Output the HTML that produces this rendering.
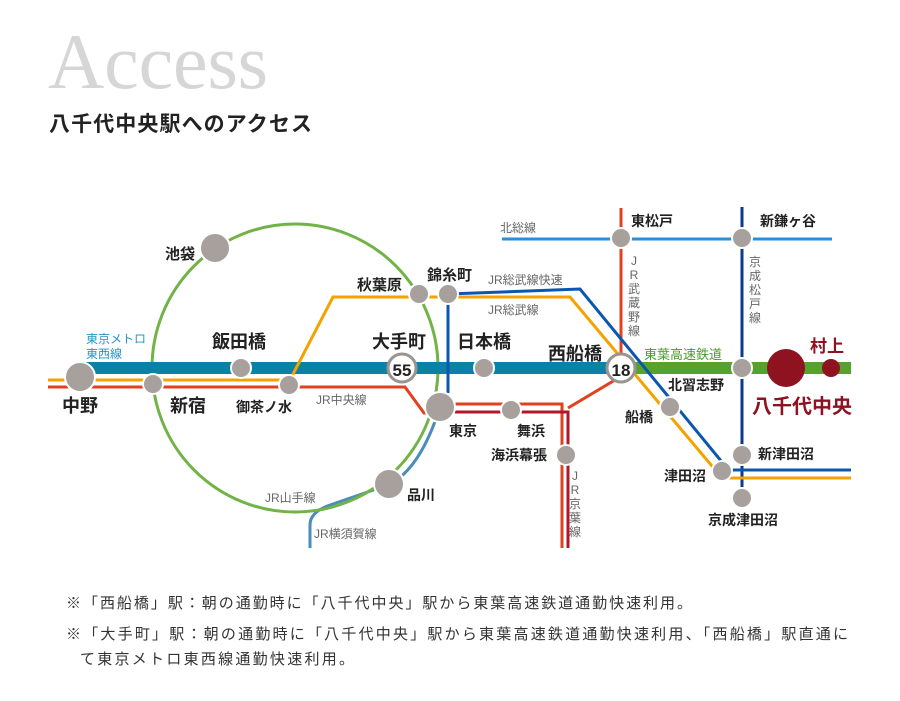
<!DOCTYPE html>
<html><head><meta charset="utf-8"><style>
html,body{margin:0;padding:0;background:#fff;}
svg{display:block;}
text{font-family:"Liberation Sans","Noto Sans CJK JP",sans-serif;}
</style></head><body>
<svg width="900" height="701" viewBox="0 0 900 701" xmlns="http://www.w3.org/2000/svg">
<text x="48" y="88" style="font-family:'Liberation Serif',serif" font-size="78" fill="#d6d6d6" textLength="220">Access</text>
<text x="49" y="131" font-size="21" font-weight="bold" fill="#222" textLength="263">八千代中央駅へのアクセス</text>

<line x1="502" y1="239" x2="832" y2="239" stroke="#2a8fd8" stroke-width="3"/>
<text x="500" y="232" font-size="12" fill="#666">北総線</text>
<line x1="621" y1="208" x2="621" y2="368" stroke="#e2401f" stroke-width="3"/>
<line x1="742" y1="207" x2="742" y2="487" stroke="#0b3a8f" stroke-width="3"/>
<path d="M440,407 Q420,470 388,485 L330,505 Q310,512 310,525 L310,548" fill="none" stroke="#4a8db8" stroke-width="3"/>
<ellipse cx="295" cy="368" rx="143" ry="144" fill="none" stroke="#72b347" stroke-width="3"/>
<line x1="80" y1="368" x2="622" y2="368" stroke="#0a82a6" stroke-width="12"/>
<line x1="622" y1="368" x2="851" y2="368" stroke="#57a22e" stroke-width="12"/>
<line x1="448" y1="294" x2="448" y2="393" stroke="#0b57b0" stroke-width="3"/>
<polyline points="448,294 580,289 722,462 722,470 851,470" fill="none" stroke="#0b57b0" stroke-width="3"/>
<polyline points="48,380 290,380 333,297 570,297 722,478 851,478" fill="none" stroke="#f5a200" stroke-width="3"/>
<polyline points="48,387 405,387 424,413 440,413" fill="none" stroke="#e2401f" stroke-width="3"/>
<polyline points="440,404 562,404 562,548" fill="none" stroke="#e2401f" stroke-width="3"/>
<polyline points="440,412 568,412 568,548" fill="none" stroke="#b3162a" stroke-width="3"/>
<line x1="568" y1="408" x2="620" y2="377" stroke="#e2401f" stroke-width="3"/>

<g fill="#a8a09d" stroke="#fff" stroke-width="2">
<circle cx="80" cy="377" r="15"/>
<circle cx="153" cy="384" r="10"/>
<circle cx="241" cy="368" r="10"/>
<circle cx="289" cy="385" r="10"/>
<circle cx="215" cy="248" r="15"/>
<circle cx="419" cy="294" r="10"/>
<circle cx="448" cy="294" r="10"/>
<circle cx="440" cy="407" r="15"/>
<circle cx="389" cy="484" r="15"/>
<circle cx="484" cy="368" r="10"/>
<circle cx="511" cy="410" r="10"/>
<circle cx="566" cy="455" r="10"/>
<circle cx="621" cy="238" r="10"/>
<circle cx="742" cy="238" r="10"/>
<circle cx="742" cy="368" r="10"/>
<circle cx="670" cy="407" r="10"/>
<circle cx="742" cy="455" r="10"/>
<circle cx="722" cy="471" r="10"/>
<circle cx="742" cy="498" r="10"/>
</g>
<circle cx="786" cy="368" r="19" fill="#8e1220"/>
<circle cx="831" cy="368" r="9" fill="#8e1220"/>
<circle cx="402" cy="368" r="14" fill="#fff" stroke="#9a9390" stroke-width="3"/>
<text x="402" y="376" font-size="17" font-weight="bold" text-anchor="middle" fill="#222">55</text>
<circle cx="621" cy="368" r="14" fill="#fff" stroke="#9a9390" stroke-width="3"/>
<text x="621" y="376" font-size="17" font-weight="bold" text-anchor="middle" fill="#222">18</text>

<g font-weight="bold" fill="#222">
<text x="165" y="259" font-size="15">池袋</text>
<text x="357" y="290" font-size="15">秋葉原</text>
<text x="427" y="280" font-size="15">錦糸町</text>
<text x="212" y="348" font-size="18">飯田橋</text>
<text x="372" y="348" font-size="18">大手町</text>
<text x="457" y="348" font-size="18">日本橋</text>
<text x="548" y="360" font-size="18">西船橋</text>
<text x="62" y="412" font-size="18">中野</text>
<text x="170" y="412" font-size="18">新宿</text>
<text x="236" y="412" font-size="14">御茶ノ水</text>
<text x="449" y="436" font-size="14">東京</text>
<text x="517" y="436" font-size="14">舞浜</text>
<text x="491" y="460" font-size="14">海浜幕張</text>
<text x="407" y="500" font-size="14">品川</text>
<text x="631" y="226" font-size="14">東松戸</text>
<text x="760" y="226" font-size="14">新鎌ヶ谷</text>
<text x="668" y="390" font-size="14">北習志野</text>
<text x="625" y="422" font-size="14">船橋</text>
<text x="758" y="459" font-size="14">新津田沼</text>
<text x="664" y="481" font-size="14">津田沼</text>
<text x="708" y="525" font-size="14">京成津田沼</text>
</g>
<text x="810" y="352" font-size="17" font-weight="bold" fill="#8e1220">村上</text>
<text x="752" y="413" font-size="20" font-weight="bold" fill="#8e1220">八千代中央</text>
<text x="644" y="359" font-size="13" fill="#4a9b26">東葉高速鉄道</text>
<text x="86" y="343" font-size="12" fill="#2a93c0">東京メトロ</text>
<text x="86" y="358" font-size="12" fill="#2a93c0">東西線</text>
<g font-size="12" fill="#666">
<text x="316" y="404">JR中央線</text>
<text x="265" y="502">JR山手線</text>
<text x="314" y="538">JR横須賀線</text>
<text x="488" y="284">JR総武線快速</text>
<text x="488" y="314">JR総武線</text>
</g>
<g font-size="12" fill="#666" text-anchor="middle">
<text x="634" y="265">J</text><text x="634" y="279">R</text><text x="634" y="293">武</text><text x="634" y="307">蔵</text><text x="634" y="321">野</text><text x="634" y="335">線</text>
<text x="755" y="266">京</text><text x="755" y="280">成</text><text x="755" y="294">松</text><text x="755" y="308">戸</text><text x="755" y="322">線</text>
<text x="575" y="480">J</text><text x="575" y="494">R</text><text x="575" y="508">京</text><text x="575" y="522">葉</text><text x="575" y="536">線</text>
</g>

<g font-size="15" fill="#333">
<text x="66" y="608" textLength="626" lengthAdjust="spacing">※「西船橋」駅：朝の通勤時に「八千代中央」駅から東葉高速鉄道通勤快速利用。</text>
<text x="66" y="639" textLength="782" lengthAdjust="spacing">※「大手町」駅：朝の通勤時に「八千代中央」駅から東葉高速鉄道通勤快速利用、「西船橋」駅直通に</text>
<text x="80" y="664" textLength="274" lengthAdjust="spacing">て東京メトロ東西線通勤快速利用。</text>
</g>
</svg>
</body></html>
